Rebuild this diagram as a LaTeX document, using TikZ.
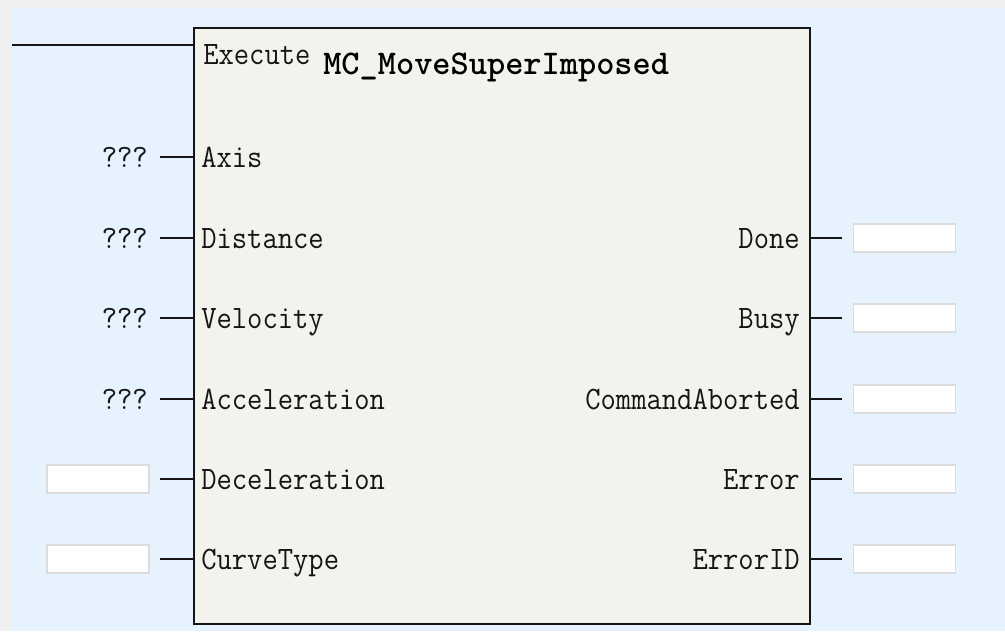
\documentclass[tikz,border=0pt]{standalone}
\usepackage{fontspec}
\definecolor{outerbg}{HTML}{F0F0F0}
\definecolor{bluebg}{HTML}{E6F2FD}
\definecolor{blockfill}{HTML}{F3F3EE}
\definecolor{boxline}{HTML}{DCDCDC}
\definecolor{ink}{HTML}{151515}
\newcommand\pintxt[1]{\scalebox{1}[1.1]{#1}}
\begin{document}
\begin{tikzpicture}[x=0.75pt,y=-0.75pt,
  lbl/.style={inner sep=0, text=ink, font=\ttfamily\fontsize{22.3}{24}\selectfont\addfontfeature{FakeBold=0.6}},
  ttl/.style={inner sep=0, text=black, font=\ttfamily\bfseries\fontsize{26}{28}\selectfont\addfontfeature{FakeBold=2}},
  valbox/.style={draw=boxline, fill=white, line width=1.3pt, minimum width=76.5pt, minimum height=21pt, inner sep=0},
  block/.style={draw=ink, fill=blockfill, line width=1.7pt, minimum width=462pt, minimum height=447pt, inner sep=0, anchor=north west},
  wire/.style={draw=ink, line width=1.6pt}]
\useasboundingbox (0,0) rectangle (1005,631);
\fill[outerbg] (0,0) rectangle (1005,631);
\fill[bluebg] (12,8) rectangle (1005,631);
\node[block] (fb) at (193,27) {};
% title and Execute
\node[lbl, anchor=base west] (exe) at (203,65) {\pintxt{Execute}};
\node[ttl, anchor=base west] (title) at (323,75) {MC\_MoveSuperImposed};
\coordinate (exl) at (12,45);
\coordinate (exr) at (193,45);
\draw[wire] (exl) -- (exr);
% inputs
\foreach \nm/\txt/\yy in {ax/Axis/157, di/Distance/238, ve/Velocity/318, ac/Acceleration/399, de/Deceleration/479, ct/CurveType/559}{
  \node[lbl, anchor=base west] (l\nm) at (201,\yy+10) {\pintxt{\txt}};
  \coordinate (p\nm) at (193,\yy);
  \coordinate (s\nm) at (160,\yy);
  \draw[wire] (s\nm) -- (p\nm);
}
\foreach \nm/\yy in {ax/157, di/238, ve/318, ac/399}{
  \node[lbl, anchor=base east] (q\nm) at (148,\yy+10) {\pintxt{???}};
}
\foreach \nm/\yy in {de/479, ct/559}{
  \node[valbox] (v\nm) at (98,\yy) {};
}
% outputs
\foreach \nm/\txt/\yy in {dn/Done/238, bs/Busy/318, ca/CommandAborted/399, er/Error/479, ei/ErrorID/559}{
  \node[lbl, anchor=base east] (l\nm) at (800,\yy+10) {\pintxt{\txt}};
  \coordinate (p\nm) at (809,\yy);
  \coordinate (s\nm) at (842,\yy);
  \draw[wire] (p\nm) -- (s\nm);
  \node[valbox] (v\nm) at (904.5,\yy) {};
}
\end{tikzpicture}
\end{document}
